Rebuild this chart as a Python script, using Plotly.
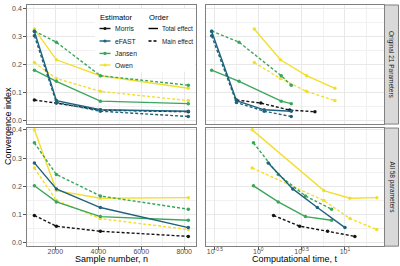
import plotly.graph_objects as go

W, H = 400, 266

# ---------------- data ----------------
n_samples = [1024, 2048, 4096, 8192]

# Original 21 parameters (top row)
orig_morris_main = [0.073, 0.062, 0.037, 0.031]
orig_efast_total = [0.318, 0.071, 0.038, 0.033]
orig_efast_main = [0.303, 0.064, 0.033, 0.014]
orig_jansen_total = [0.180, 0.140, 0.069, 0.060]
orig_jansen_main = [0.320, 0.280, 0.160, 0.126]
orig_owen_total = [0.327, 0.217, 0.160, 0.115]
orig_owen_main = [0.207, 0.150, 0.104, 0.071]

orig_time_morris = [0.56, 1.07, 2.3, 4.5]
orig_time_efast = [0.29, 0.56, 1.17, 2.4]
orig_time_jansen = [0.29, 0.60, 1.84, 2.4]
orig_time_owen = [0.90, 1.8, 3.6, 7.65]

# All 58 parameters (bottom row)
all_morris_main = [0.097, 0.059, 0.041, 0.023]
all_efast_total = [0.283, 0.191, 0.125, 0.054]
all_jansen_total = [0.202, 0.145, 0.093, 0.080]
all_jansen_main = [0.354, 0.242, 0.166, 0.119]
all_owen_total = [0.400, 0.185, 0.158, 0.160]
all_owen_main = [0.265, 0.150, 0.086, 0.047]

all_time_morris = [1.5, 3.0, 6.3, 13.0]
all_time_efast = [1.3, 2.5, 4.8, 10.0]
all_time_jansen = [0.88, 1.7, 3.5, 7.0]
all_time_owen = [0.85, 5.7, 11.4, 23.3]

estimators = ["Morris", "eFAST", "Jansen", "Owen"]
orders = ["Total effect", "Main effect"]
strip_labels = ["Original 21 Parameters", "All 58 parameters"]

y_ticks = [0.0, 0.1, 0.2, 0.3, 0.4]
y_ticktext = ["0.0", "0.1", "0.2", "0.3", "0.4"]
y_minor = [0.05, 0.15, 0.25, 0.35]
n_ticks = [2000, 4000, 6000, 8000]
n_minor = [1000, 3000, 5000, 7000]
t_ticks = [10 ** -0.5, 10 ** 0, 10 ** 0.5, 10 ** 1]
t_ticktext = ["10<sup>-0.5</sup>", "10<sup>0</sup>", "10<sup>0.5</sup>", "10<sup>1</sup>"]
t_minor = [10 ** -0.25, 10 ** 0.25, 10 ** 0.75, 10 ** 1.25]

colors = {"Morris": "#141414", "eFAST": "#1f627c", "Jansen": "#3aa65c", "Owen": "#f2df2d"}
dashes = {"Total effect": "solid", "Main effect": "3px,2px"}

# (row, estimator, order, values, times)
series = [
    ("orig", "Owen", "Total effect", orig_owen_total, orig_time_owen),
    ("orig", "Owen", "Main effect", orig_owen_main, orig_time_owen),
    ("orig", "Jansen", "Total effect", orig_jansen_total, orig_time_jansen),
    ("orig", "Jansen", "Main effect", orig_jansen_main, orig_time_jansen),
    ("orig", "Morris", "Main effect", orig_morris_main, orig_time_morris),
    ("orig", "eFAST", "Total effect", orig_efast_total, orig_time_efast),
    ("orig", "eFAST", "Main effect", orig_efast_main, orig_time_efast),
    ("all", "Owen", "Total effect", all_owen_total, all_time_owen),
    ("all", "Owen", "Main effect", all_owen_main, all_time_owen),
    ("all", "Jansen", "Total effect", all_jansen_total, all_time_jansen),
    ("all", "Jansen", "Main effect", all_jansen_main, all_time_jansen),
    ("all", "Morris", "Main effect", all_morris_main, all_time_morris),
    ("all", "eFAST", "Total effect", all_efast_total, all_time_efast),
]

# ---------------- layout helpers ----------------
def px(x):
    return x / W

def py(y):
    return 1 - y / H

LX = [26.7, 196.0]
RX = [206.0, 384.0]
TY = [3.0, 123.0]
BY = [127.0, 246.0]

axis_ids = {("orig", "n"): ("x", "y"), ("orig", "t"): ("x2", "y2"),
            ("all", "n"): ("x3", "y3"), ("all", "t"): ("x4", "y4")}

fig = go.Figure()
for row, est, order, vals, times in series:
    for kind, xs in (("n", n_samples), ("t", times)):
        xa, ya = axis_ids[(row, kind)]
        fig.add_trace(go.Scatter(
            x=xs, y=vals, xaxis=xa, yaxis=ya, mode="lines+markers",
            line=dict(color=colors[est], width=1.4, dash=dashes[order]),
            marker=dict(color=colors[est], size=3.5),
            showlegend=False, hoverinfo="skip"))

grid = "#e8e8e8"
border = "#808080"
tickfont = dict(family="Liberation Sans, Arial, sans-serif", size=7, color="#4d4d4d")

def xaxis(dom, anchor, kind, labels, rng):
    d = dict(domain=[px(dom[0]), px(dom[1])], anchor=anchor, showline=True, mirror=True,
             linecolor=border, linewidth=1, showgrid=True, gridcolor=grid, gridwidth=0.9,
             zeroline=False, tickfont=tickfont, ticks="outside" if labels else "",
             ticklen=2.5, tickcolor="#555555", tickwidth=0.8, showticklabels=labels,
             range=rng, tickmode="array", ticklabelstandoff=-4)
    if kind == "n":
        d.update(tickvals=n_ticks, ticktext=[str(v) for v in n_ticks],
                 minor=dict(tickmode="array", tickvals=n_minor, showgrid=True,
                            gridcolor="#f1f1f1", gridwidth=0.6, ticks=""))
    else:
        d.update(type="log", tickvals=t_ticks, ticktext=t_ticktext,
                 minor=dict(tickmode="array", tickvals=t_minor, showgrid=True,
                            gridcolor="#f1f1f1", gridwidth=0.6, ticks=""))
    return d

def yaxis(dom, anchor, labels, rng):
    return dict(domain=[py(dom[1]), py(dom[0])], anchor=anchor, showline=True, mirror=True,
                linecolor=border, linewidth=1, showgrid=True, gridcolor=grid, gridwidth=0.9,
                zeroline=False, tickfont=tickfont, ticks="outside" if labels else "",
                ticklen=2.5, tickcolor="#555555", tickwidth=0.8, showticklabels=labels,
                range=rng, tickmode="array", tickvals=y_ticks, ticktext=y_ticktext,
                minor=dict(tickmode="array", tickvals=y_minor, showgrid=True,
                           gridcolor="#f1f1f1", gridwidth=0.6, ticks=""))

top_range = [-0.0131, 0.4132]
bot_range = [-0.0116, 0.4064]
n_range = [666, 8550]
t_range = [-0.603, 1.45]

fig.update_layout(
    width=W, height=H, margin=dict(l=0, r=0, t=0, b=0),
    paper_bgcolor="white", plot_bgcolor="white", showlegend=False,
    font=dict(family="Liberation Sans, Arial, sans-serif", color="#000000"),
    xaxis=xaxis(LX, "y", "n", False, n_range),
    yaxis=yaxis(TY, "x", True, top_range),
    xaxis2=xaxis(RX, "y2", "t", False, t_range),
    yaxis2=yaxis(TY, "x2", False, top_range),
    xaxis3=xaxis(LX, "y3", "n", True, n_range),
    yaxis3=yaxis(BY, "x3", True, bot_range),
    xaxis4=xaxis(RX, "y4", "t", True, t_range),
    yaxis4=yaxis(BY, "x4", False, bot_range),
)

shapes = []
annotations = []

# strips
for (y0, y1), lab in zip((TY, BY), strip_labels):
    shapes.append(dict(type="rect", xref="paper", yref="paper", x0=px(384.5), x1=px(398.5),
                       y0=py(y1), y1=py(y0), fillcolor="#d9d9d9",
                       line=dict(color=border, width=1), layer="above"))
    annotations.append(dict(text=lab, xref="paper", yref="paper", x=px(391.5),
                            y=py((y0 + y1) / 2), showarrow=False, textangle=90,
                            font=dict(size=6.5, color="#1a1a1a"),
                            xanchor="center", yanchor="middle"))

# axis titles
annotations.append(dict(text="Convergence index", xref="paper", yref="paper", x=px(8),
                        y=py(125), showarrow=False, textangle=-90,
                        font=dict(size=9, color="#000000"), xanchor="center", yanchor="middle"))
annotations.append(dict(text="Sample number, n", xref="paper", yref="paper", x=px(111),
                        y=py(259), showarrow=False, font=dict(size=9, color="#000000"),
                        xanchor="center", yanchor="middle"))
annotations.append(dict(text="Computational time, t", xref="paper", yref="paper", x=px(295),
                        y=py(259), showarrow=False, font=dict(size=9, color="#000000"),
                        xanchor="center", yanchor="middle"))

# legend (drawn inside the top-left panel)
shapes.append(dict(type="rect", xref="paper", yref="paper", x0=px(95), x1=px(195),
                   y0=py(70), y1=py(7), fillcolor="white", line=dict(width=0), layer="above"))
annotations.append(dict(text="Estimator", xref="paper", yref="paper", x=px(98), y=py(15.7),
                        showarrow=False, xanchor="left", yanchor="middle",
                        font=dict(size=7.6, color="#000000")))
annotations.append(dict(text="Order", xref="paper", yref="paper", x=px(147), y=py(15.7),
                        showarrow=False, xanchor="left", yanchor="middle",
                        font=dict(size=7.6, color="#000000")))
est_rows = [26.7, 39.3, 51.8, 63.5]
for est, yy in zip(estimators, est_rows):
    shapes.append(dict(type="line", xref="paper", yref="paper", x0=px(99.5), x1=px(110.5),
                       y0=py(yy), y1=py(yy), line=dict(color=colors[est], width=1.4),
                       layer="above"))
    shapes.append(dict(type="circle", xref="paper", yref="paper", x0=px(103.4), x1=px(106.6),
                       y0=py(yy + 1.6), y1=py(yy - 1.6), fillcolor=colors[est],
                       line=dict(width=0), layer="above"))
    annotations.append(dict(text=est, xref="paper", yref="paper", x=px(112.5), y=py(yy),
                            showarrow=False, xanchor="left", yanchor="middle",
                            font=dict(size=6.8, color="#1a1a1a")))
ord_rows = [26.7, 39.3]
for order, yy in zip(orders, ord_rows):
    shapes.append(dict(type="line", xref="paper", yref="paper", x0=px(148.5), x1=px(158),
                       y0=py(yy), y1=py(yy), line=dict(color="#000000", width=1.4,
                                                       dash=dashes[order]), layer="above"))
    annotations.append(dict(text=order, xref="paper", yref="paper", x=px(160), y=py(yy),
                            showarrow=False, xanchor="left", yanchor="middle",
                            font=dict(size=6.4, color="#1a1a1a")))

fig.update_layout(shapes=shapes, annotations=annotations)
fig.write_html("out.html", config={"displayModeBar": False},
               post_script="document.body.style.margin='0';document.body.style.overflow='hidden';")
